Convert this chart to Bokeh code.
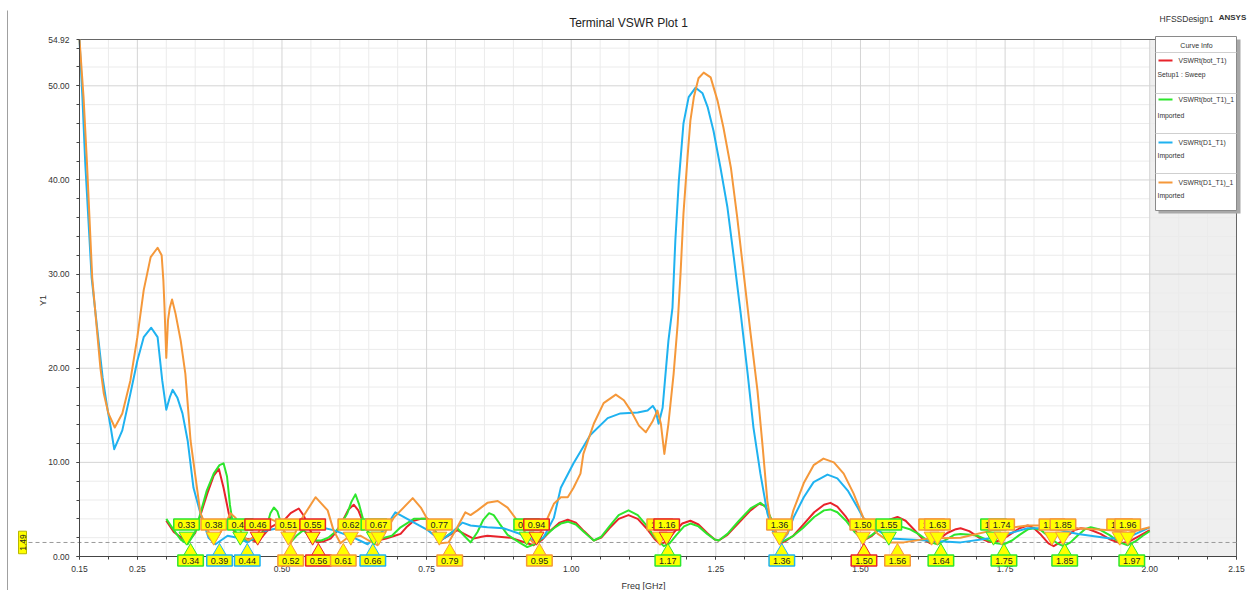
import math
from bokeh.plotting import figure
from bokeh.models import FixedTicker, NumeralTickFormatter, Label, Range1d
from bokeh.embed import file_html
from bokeh.resources import INLINE

FONT = "Liberation Sans"

# ---------------- data ----------------
red_f = [0.300, 0.313, 0.337, 0.350, 0.359, 0.371, 0.382, 0.391, 0.399, 0.408, 0.416, 0.425, 0.434, 0.446, 0.458,
         0.470, 0.480, 0.492, 0.503, 0.515, 0.529, 0.538, 0.547, 0.556, 0.561, 0.572, 0.584, 0.595, 0.605, 0.615,
         0.624, 0.632, 0.641, 0.652, 0.665, 0.680, 0.695, 0.705, 0.715, 0.728, 0.740, 0.752, 0.762, 0.774, 0.790,
         0.803, 0.815, 0.831, 0.845, 0.855, 0.875, 0.895, 0.915, 0.935, 0.950, 0.965, 0.980, 0.994, 1.008, 1.022,
         1.039, 1.052, 1.066, 1.082, 1.099, 1.115, 1.130, 1.145, 1.154, 1.165, 1.178, 1.192, 1.206, 1.220, 1.235,
         1.248, 1.255, 1.270, 1.290, 1.310, 1.325, 1.335, 1.345, 1.355, 1.362, 1.372, 1.384, 1.400, 1.420, 1.437,
         1.448, 1.460, 1.475, 1.490, 1.505, 1.520, 1.535, 1.550, 1.564, 1.578, 1.592, 1.607, 1.621, 1.635, 1.650,
         1.665, 1.673, 1.688, 1.705, 1.720, 1.730, 1.745, 1.760, 1.775, 1.789, 1.800, 1.812, 1.825, 1.834, 1.845,
         1.858, 1.870, 1.881, 1.895, 1.915, 1.932, 1.950, 1.965, 1.980, 2.000]
red_v = [3.8, 2.6, 1.5, 2.5, 4.4, 6.7, 8.6, 9.3, 7.3, 4.6, 2.8, 2.1, 1.9, 1.8, 1.5,
         2.4, 3.1, 3.5, 3.8, 4.6, 5.1, 4.3, 3.0, 1.9, 1.5, 1.6, 1.9, 2.7, 3.8, 5.0,
         5.5, 4.9, 3.5, 2.3, 1.7, 1.9, 2.2, 2.4, 3.1, 3.8, 4.0, 4.0, 3.0, 1.7, 2.3,
         2.8, 2.4, 1.9, 2.1, 2.2, 2.1, 2.0, 1.6, 1.2, 1.8, 2.8, 3.6, 3.9, 3.6, 2.7,
         1.7, 2.0, 3.0, 4.0, 4.4, 4.0, 3.0, 1.8, 1.3, 1.6, 2.6, 3.5, 3.8, 3.4, 2.5,
         1.8, 1.7, 2.3, 3.6, 4.9, 5.6, 5.4, 4.0, 2.2, 1.4, 1.7, 2.2, 3.3, 4.7, 5.5,
         5.7, 5.3, 4.2, 2.8, 1.7, 2.2, 3.1, 3.9, 4.2, 3.8, 2.9, 1.9, 1.4, 1.8, 2.5,
         2.9, 3.0, 2.7, 2.0, 1.6, 1.5, 1.8, 2.4, 3.0, 3.3, 3.0, 2.3, 1.4, 1.1, 1.5,
         2.2, 2.8, 3.0, 2.9, 2.4, 1.8, 1.4, 1.6, 2.1, 2.8]

green_f = [0.300, 0.313, 0.325, 0.337, 0.350, 0.359, 0.370, 0.382, 0.392, 0.399, 0.405, 0.410, 0.416, 0.425, 0.434,
           0.450, 0.465, 0.475, 0.480, 0.486, 0.492, 0.500, 0.508, 0.515, 0.525, 0.537, 0.546, 0.555, 0.568, 0.580,
           0.592, 0.600, 0.613, 0.620, 0.627, 0.633, 0.640, 0.650, 0.660, 0.670, 0.690, 0.705, 0.718, 0.728, 0.752,
           0.762, 0.774, 0.790, 0.803, 0.815, 0.826, 0.838, 0.848, 0.858, 0.866, 0.876, 0.890, 0.910, 0.924, 0.940,
           0.955, 0.970, 0.982, 0.994, 1.008, 1.022, 1.039, 1.052, 1.066, 1.082, 1.099, 1.115, 1.130, 1.145, 1.160,
           1.170, 1.182, 1.195, 1.206, 1.220, 1.235, 1.248, 1.255, 1.270, 1.290, 1.310, 1.327, 1.337, 1.347, 1.356,
           1.362, 1.372, 1.384, 1.400, 1.420, 1.437, 1.448, 1.460, 1.475, 1.490, 1.505, 1.520, 1.535, 1.550, 1.569,
           1.585, 1.600, 1.618, 1.633, 1.648, 1.662, 1.673, 1.690, 1.702, 1.718, 1.735, 1.748, 1.762, 1.775, 1.790,
           1.800, 1.812, 1.826, 1.840, 1.851, 1.863, 1.875, 1.888, 1.898, 1.912, 1.930, 1.948, 1.962, 1.975, 1.988,
           2.000]
green_v = [4.0, 2.8, 1.8, 1.3, 2.6, 4.6, 7.0, 8.8, 9.7, 9.9, 8.5, 5.5, 3.1, 2.0, 1.7,
           1.8, 2.5, 3.5, 4.6, 5.2, 4.8, 3.2, 2.1, 1.5, 2.2, 2.8, 2.3, 1.7, 1.7, 2.0,
           2.6, 3.2, 4.6, 5.8, 6.6, 5.6, 4.0, 2.4, 2.0, 1.9, 2.2, 3.1, 3.6, 4.0, 4.0,
           3.0, 1.7, 2.4, 3.0, 2.2, 1.5, 2.6, 3.9, 4.6, 4.4, 3.5, 2.3, 1.5, 1.0, 1.4,
           2.2, 3.0, 3.5, 3.7, 3.4, 2.6, 1.7, 2.1, 3.2, 4.4, 4.9, 4.4, 3.3, 2.0, 1.1,
           1.4, 2.3, 3.2, 3.5, 3.2, 2.4, 1.8, 1.7, 2.4, 3.8, 5.1, 5.7, 5.2, 3.8, 2.2,
           1.5, 1.8, 2.2, 3.0, 4.2, 4.9, 5.0, 4.7, 3.8, 2.6, 1.7, 2.3, 3.0, 3.2, 3.2,
           2.9, 2.4, 1.6, 1.3, 1.8, 2.3, 2.4, 2.3, 2.2, 1.8, 1.4, 1.3, 1.7, 2.3, 2.9,
           3.0, 2.8, 2.1, 1.4, 1.1, 1.5, 2.2, 2.9, 3.1, 2.9, 2.3, 1.5, 1.2, 1.6, 2.2,
           2.7]

blue_f = [0.150, 0.155, 0.160, 0.171, 0.181, 0.190, 0.198, 0.204, 0.210, 0.224, 0.238, 0.250, 0.261, 0.274, 0.285,
          0.293, 0.300, 0.306, 0.311, 0.319, 0.328, 0.337, 0.347, 0.359, 0.373, 0.385, 0.406, 0.423, 0.440, 0.458,
          0.475, 0.503, 0.532, 0.567, 0.589, 0.624, 0.648, 0.676, 0.696, 0.722, 0.752, 0.774, 0.791, 0.812, 0.826,
          0.855, 0.883, 0.907, 0.935, 0.952, 0.970, 0.982, 1.004, 1.033, 1.063, 1.085, 1.115, 1.132, 1.141, 1.146,
          1.151, 1.158, 1.163, 1.168, 1.175, 1.180, 1.186, 1.194, 1.203, 1.215, 1.227, 1.236, 1.246, 1.258, 1.270,
          1.281, 1.293, 1.305, 1.315, 1.327, 1.339, 1.350, 1.362, 1.374, 1.384, 1.402, 1.419, 1.443, 1.460, 1.478,
          1.495, 1.505, 1.530, 1.552, 1.616, 1.673, 1.730, 1.789, 1.829, 1.876, 1.932, 1.962, 2.000]
blue_v = [54.9, 48.8, 41.7, 29.6, 24.0, 19.0, 15.8, 13.7, 11.4, 13.4, 17.3, 20.8, 23.3, 24.3, 23.3,
          18.7, 15.6, 16.9, 17.7, 16.9, 15.2, 12.3, 7.3, 4.6, 2.0, 1.3, 2.2, 2.0, 1.5, 2.2,
          2.8, 3.1, 3.2, 3.1, 2.8, 2.0, 1.3, 2.8, 4.7, 3.8, 2.8, 1.7, 2.4, 3.6, 3.3,
          3.1, 3.0, 2.5, 1.7, 2.0, 4.1, 7.3, 9.9, 12.9, 14.7, 15.2, 15.3, 15.5, 16.0, 15.5,
          14.1, 15.8, 19.4, 22.9, 26.4, 33.6, 39.9, 46.0, 48.8, 49.8, 49.2, 47.7, 45.2, 41.3, 37.1,
          31.8, 25.8, 19.4, 13.7, 8.8, 4.6, 2.4, 1.5, 2.4, 4.1, 6.3, 7.9, 8.7, 8.3, 7.0,
          5.2, 4.1, 2.8, 1.9, 1.7, 1.5, 2.0, 3.0, 3.0, 2.4, 1.9, 2.0, 3.1]

orange_f = [0.150, 0.157, 0.163, 0.172, 0.186, 0.192, 0.200, 0.211, 0.224, 0.238, 0.250, 0.261, 0.273, 0.285, 0.292,
            0.295, 0.297, 0.300, 0.303, 0.306, 0.310, 0.316, 0.325, 0.333, 0.342, 0.359, 0.382, 0.399, 0.411, 0.420,
            0.432, 0.442, 0.458, 0.468, 0.480, 0.497, 0.515, 0.532, 0.558, 0.579, 0.589, 0.601, 0.613, 0.636, 0.650,
            0.665, 0.693, 0.726, 0.740, 0.762, 0.774, 0.788, 0.803, 0.817, 0.826, 0.838, 0.855, 0.873, 0.890, 0.907,
            0.924, 0.935, 0.952, 0.970, 0.982, 0.994, 1.004, 1.016, 1.021, 1.039, 1.056, 1.077, 1.091, 1.103, 1.117,
            1.129, 1.141, 1.149, 1.155, 1.161, 1.168, 1.177, 1.184, 1.189, 1.194, 1.201, 1.206, 1.212, 1.220, 1.229,
            1.241, 1.253, 1.263, 1.276, 1.287, 1.298, 1.310, 1.322, 1.331, 1.339, 1.345, 1.362, 1.374, 1.384, 1.402,
            1.419, 1.436, 1.454, 1.471, 1.488, 1.505, 1.530, 1.552, 1.575, 1.616, 1.673, 1.730, 1.789, 1.824, 1.876,
            1.932, 1.962, 2.000]
orange_v = [54.9, 48.8, 41.7, 29.6, 20.1, 17.3, 15.2, 13.7, 15.2, 18.7, 23.3, 28.3, 31.8, 32.8, 32.0,
            29.3, 26.4, 21.1, 25.1, 26.4, 27.3, 25.8, 22.9, 19.4, 12.3, 4.6, 1.4, 3.1, 4.6, 4.1,
            2.2, 1.7, 2.4, 3.6, 4.0, 3.5, 1.4, 3.8, 6.3, 4.9, 2.8, 1.4, 2.0, 2.2, 1.7,
            1.2, 4.1, 6.2, 5.2, 2.8, 1.4, 1.5, 3.1, 4.7, 4.4, 4.9, 5.7, 5.9, 5.2, 3.8,
            2.2, 1.4, 3.1, 5.6, 6.3, 6.3, 7.3, 8.8, 10.9, 14.1, 16.3, 17.2, 16.6, 15.5, 13.9,
            13.2, 14.4, 15.5, 14.1, 10.9, 14.1, 19.4, 24.7, 30.1, 36.4, 42.4, 46.3, 48.8, 50.8, 51.4,
            50.9, 48.4, 45.6, 41.3, 36.0, 30.1, 23.7, 17.6, 11.6, 5.9, 3.5, 1.7, 2.5, 4.9, 7.8,
            9.7, 10.4, 10.0, 8.8, 6.7, 4.1, 2.4, 1.5, 1.5, 1.9, 2.0, 2.8, 3.3, 3.3, 3.0,
            2.8, 2.5, 3.1]

series_names = ["VSWRt(bot_T1)", "VSWRt(bot_T1)_1", "VSWRt(D1_T1)", "VSWRt(D1_T1)_1"]
series_notes = ["Setup1 : Sweep", "Imported", "Imported", "Imported"]

# marker tags (frequency, text, owner curve index)
upper_f = [0.335, 0.382, 0.428, 0.458, 0.511, 0.553, 0.619, 0.659, 0.667, 0.772, 0.923, 0.940, 1.153, 1.165,
           1.360, 1.504, 1.549, 1.623, 1.633, 1.730, 1.744, 1.831, 1.850, 1.948, 1.962]
upper_txt = ["0.33", "0.38", "0.43", "0.46", "0.51", "0.55", "0.62", "0.66", "0.67", "0.77", "0.92", "0.94", "1.15",
             "1.16", "1.36", "1.50", "1.55", "1.62", "1.63", "1.73", "1.74", "1.83", "1.85", "1.95", "1.96"]
upper_own = [1, 3, 1, 0, 3, 0, 3, 1, 3, 3, 1, 0, 3, 0, 3, 3, 1, 3, 3, 1, 3, 3, 3, 3, 3]

lower_f = [0.342, 0.392, 0.440, 0.515, 0.563, 0.606, 0.657, 0.790, 0.945, 1.167, 1.364, 1.506, 1.564, 1.639,
           1.748, 1.853, 1.969]
lower_txt = ["0.34", "0.39", "0.44", "0.52", "0.56", "0.61", "0.66", "0.79", "0.95", "1.17", "1.36", "1.50", "1.56",
             "1.64", "1.75", "1.85", "1.97"]
lower_own = [1, 2, 2, 3, 0, 3, 2, 3, 3, 1, 2, 0, 3, 1, 1, 1, 1]

ref_level = 1.49
x_ticks = [0.15, 0.25, 0.50, 0.75, 1.00, 1.25, 1.50, 1.75, 2.00, 2.15]
y_ticks = [0, 10, 20, 30, 40, 50, 54.92]
sweep_end = 2.00

# ---------------- layout / styles ----------------
COLORS = ["#e8232b", "#2de62d", "#1fb2f0", "#f5983a"]
YELLOW = "#ffff00"
X0, X1 = 0.15, 2.15          # plotted frequency span
Y0, Y1 = 0.0, 54.92          # plotted value span
W, H = 1254, 590
PL, PR, PT, PB = 79, 1236, 39, 556   # plot area in canvas pixels
kx = (X1 - X0) / (PR - PL)
ky = (Y1 - Y0) / (PB - PT)


def fx(px):   # canvas pixel -> frequency (for annotation placement)
    return X0 + (px - PL) * kx


def vy(py):   # canvas pixel -> value
    return Y0 + (PB - py) * ky


p = figure(width=W, height=H, output_backend="svg", toolbar_location=None,
           x_range=Range1d(fx(0), fx(W)), y_range=Range1d(vy(H), vy(0)), min_border=0)
p.background_fill_color = "white"
p.border_fill_color = "white"
p.outline_line_color = None
p.grid.visible = False

# axes placed at the plot-area edges
p.xaxis.fixed_location = Y0
p.yaxis.fixed_location = X0
p.xaxis.bounds = (X0, X1)
p.yaxis.bounds = (Y0, Y1)
x_minor = [round(X0 + 0.05 * i, 2) for i in range(41)]
y_minor = list(range(0, 55, 2))
p.xaxis.ticker = FixedTicker(ticks=x_ticks, minor_ticks=x_minor)
p.yaxis.ticker = FixedTicker(ticks=y_ticks, minor_ticks=y_minor)
for ax in (p.xaxis, p.yaxis):
    ax.formatter = NumeralTickFormatter(format="0.00")
    ax.axis_line_color = "#444444"
    ax.major_tick_line_color = "#444444"
    ax.minor_tick_line_color = "#444444"
    ax.major_label_text_font = FONT
    ax.major_label_text_font_size = "8.5px"
    ax.major_label_text_color = "#333333"
    ax.major_tick_in = 0
    ax.major_tick_out = 3
    ax.minor_tick_in = 0
    ax.minor_tick_out = 3
p.xaxis.major_label_standoff = 6
p.yaxis.major_label_standoff = 7

# shaded region beyond sweep end
p.quad(left=[sweep_end], right=[X1], bottom=[Y0], top=[Y1], fill_color="#efefef", line_color=None)

# grid lines (drawn only inside the plot area)
xg_major = [t for t in x_ticks if X0 < t < X1]
xg_minor = [t for t in x_minor if t not in x_ticks]
yg_major = [t for t in y_ticks if Y0 < t < Y1]
yg_minor = [t for t in y_minor if t not in y_ticks]
p.segment(x0=xg_minor, x1=xg_minor, y0=[Y0] * len(xg_minor), y1=[Y1] * len(xg_minor), line_color="#ebebeb", line_width=1)
p.segment(x0=[X0] * len(yg_minor), x1=[X1] * len(yg_minor), y0=yg_minor, y1=yg_minor, line_color="#ebebeb", line_width=1)
p.segment(x0=xg_major, x1=xg_major, y0=[Y0] * len(xg_major), y1=[Y1] * len(xg_major), line_color="#d4d4d4", line_width=1)
p.segment(x0=[X0] * len(yg_major), x1=[X1] * len(yg_major), y0=yg_major, y1=yg_major, line_color="#d4d4d4", line_width=1)
# top and right borders of the plot area
p.segment(x0=[X0, X1], x1=[X1, X1], y0=[Y1, Y0], y1=[Y1, Y1], line_color="#666666", line_width=1)

# reference line at 1.49 (extends to the tag on the left)
p.segment(x0=[fx(28)], x1=[X1], y0=[ref_level], y1=[ref_level], line_color="#9a9a9a", line_dash="4 3", line_width=1)

# window border line at far left
p.segment(x0=[fx(7)], x1=[fx(7)], y0=[vy(10)], y1=[vy(H)], line_color="#a0a0a0", line_width=1)

# curves
for fxs, vys, c in ((red_f, red_v, COLORS[0]), (green_f, green_v, COLORS[1]),
                    (blue_f, blue_v, COLORS[2]), (orange_f, orange_v, COLORS[3])):
    p.line(fxs, vys, line_color=c, line_width=2, line_join="round")

# marker triangles
p.scatter(x=upper_f, y=[vy(536)] * len(upper_f), marker="inverted_triangle", size=15,
          fill_color=YELLOW, line_color=[COLORS[i] for i in upper_own], line_width=1)
p.scatter(x=lower_f, y=[vy(551)] * len(lower_f), marker="triangle", size=14,
          fill_color=YELLOW, line_color=[COLORS[i] for i in lower_own], line_width=1)

PAD = dict(left=4, right=4, top=3, bottom=2)
for f_, t, o in zip(upper_f, upper_txt, upper_own):
    p.add_layout(Label(x=f_, y=vy(524), text=t, text_font=FONT, text_font_size="9px", text_color="#222222",
                       text_align="center", text_baseline="middle", background_fill_color=YELLOW,
                       border_line_color=COLORS[o], border_line_width=1.5, padding=PAD))
for f_, t, o in zip(lower_f, lower_txt, lower_own):
    p.add_layout(Label(x=f_, y=vy(560), text=t, text_font=FONT, text_font_size="9px", text_color="#222222",
                       text_align="center", text_baseline="middle", background_fill_color=YELLOW,
                       border_line_color=COLORS[o], border_line_width=1.5, padding=PAD))

# 1.49 tag at left
p.add_layout(Label(x=fx(22), y=ref_level, text=f"{ref_level:.2f}", angle=math.pi / 2, text_font=FONT,
                   text_font_size="8.5px", text_color="#222222", text_align="center", text_baseline="middle",
                   background_fill_color=YELLOW, border_line_color="#b8b800", padding=dict(left=3, right=3, top=1, bottom=1)))

# titles / axis labels
p.add_layout(Label(x=fx(628), y=vy(22), text="Terminal VSWR Plot 1", text_font=FONT, text_font_size="12px",
                   text_color="#222222", text_align="center", text_baseline="middle"))
p.add_layout(Label(x=fx(1186), y=vy(18), text="HFSSDesign1", text_font=FONT, text_font_size="8.5px",
                   text_color="#333333", text_align="center", text_baseline="middle"))
p.add_layout(Label(x=fx(1232), y=vy(17), text="ANSYS", text_font=FONT, text_font_size="8px", text_font_style="bold",
                   text_color="#333333", text_align="center", text_baseline="middle"))
p.add_layout(Label(x=fx(42), y=vy(300), text="Y1", angle=math.pi / 2, text_font=FONT, text_font_size="9px",
                   text_color="#333333", text_align="center", text_baseline="middle"))
p.add_layout(Label(x=fx(643), y=vy(585), text="Freq [GHz]", text_font=FONT, text_font_size="9px",
                   text_color="#333333", text_align="center", text_baseline="middle"))

# legend ("Curve Info") box
LX0, LX1, LT, LB = fx(1155), fx(1236), vy(36), vy(210)
p.quad(left=[fx(1158)], right=[fx(1240)], top=[vy(39)], bottom=[vy(213)], fill_color="#a8a8a8", line_color=None)
p.quad(left=[LX0], right=[LX1], top=[LT], bottom=[LB], fill_color="white", line_color="#8a8a8a", line_width=1)
sep_y = [vy(52), vy(93), vy(133), vy(173)]
p.segment(x0=[LX0] * 4, x1=[LX1] * 4, y0=sep_y, y1=sep_y, line_color="#cfcfcf", line_width=1)
p.add_layout(Label(x=fx(1196), y=vy(45), text="Curve Info", text_font=FONT, text_font_size="7px",
                   text_color="#333333", text_align="center", text_baseline="middle"))
entry_y = [vy(60), vy(99), vy(142), vy(182)]
note_y = [vy(74), vy(115), vy(155), vy(195)]
p.segment(x0=[fx(1158)] * 4, x1=[fx(1172)] * 4, y0=entry_y, y1=entry_y, line_color=COLORS, line_width=2)
for name, note, ey, ny in zip(series_names, series_notes, entry_y, note_y):
    p.add_layout(Label(x=fx(1178), y=ey, text=name, text_font=FONT, text_font_size="6.8px", text_color="#333333",
                       text_align="left", text_baseline="middle"))
    p.add_layout(Label(x=fx(1157), y=ny, text=note, text_font=FONT, text_font_size="6.8px", text_color="#333333",
                       text_align="left", text_baseline="middle"))

open("out.html", "w").write(file_html(p, INLINE))
